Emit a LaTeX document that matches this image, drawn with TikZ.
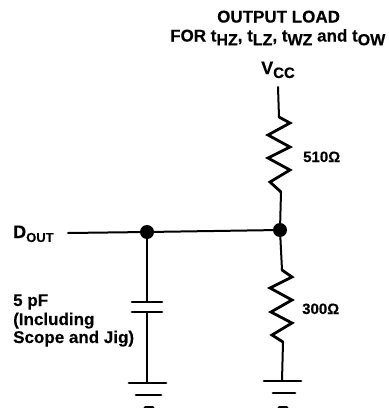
\documentclass[tikz,border=0pt]{standalone}
\usepackage{fontspec}
\setmainfont{Liberation Sans}[BoldFont={Liberation Sans Bold},BoldFeatures={FakeBold=0.3}]
\newcommand{\lowsub}[2][15]{\raisebox{-0.22em}{\fontsize{#1}{#1}\selectfont #2}}
\begin{document}
\begin{tikzpicture}[x=1pt,y=-1pt,
  wire/.style={line width=2pt,line cap=round,line join=round},
  zig/.style={line width=2.8pt,line join=miter,line cap=round},
  plate/.style={line width=2.8pt,line cap=round},
  dot/.style={circle,fill=black,inner sep=0pt,minimum size=14pt},
  lab/.style={font=\fontsize{15}{18}\selectfont\bfseries,inner sep=0pt,anchor=base west},
  note/.style={lab,font=\fontsize{17}{18}\selectfont\bfseries}]
\useasboundingbox (0,0) rectangle (389,408);
\node[lab] (t1) at (217,22.5) {\fontsize{17}{18}\selectfont OUTPUT LOAD};
\node[lab] (t2) at (170,41.5) {\fontsize{17}{18}\selectfont FOR t\lowsub[16]{HZ}, t\lowsub[16]{LZ}, t\lowsub[16]{WZ} and t\lowsub[16]{OW}};
\node[lab] (vcc) at (261,74) {\fontsize{18}{18}\selectfont V\lowsub[15]{CC}};
\node[lab] (r1) at (303,162) {510Ω};
\node[lab] (r2) at (302,314) {300Ω};
\node[lab] (dout) at (13,238) {\fontsize{18}{18}\selectfont D\lowsub[13]{OUT}};
\node[note] (c1) at (13,306) {5 pF};
\node[note] (c2) at (13,325) {(Including};
\node[note] (c3) at (13,343) {Scope and Jig)};
\node[dot] (n1) at (147,232) {};
\node[dot] (n2) at (280,230) {};
\coordinate (vtop) at (278,87);
\coordinate (dstart) at (68,233);
\coordinate (a1) at (279,117);
\coordinate (a2) at (281,192);
\coordinate (b1) at (282,270);
\coordinate (b2) at (283,342);
\coordinate (c1t) at (147,302);
\coordinate (c1b) at (147,312);
\coordinate (g1) at (147,383);
\coordinate (g2) at (282,381);
\draw[wire] (vtop) -- (a1);
\draw[zig] (a1) -- (290,123) -- (268,135) -- (290,147) -- (268,158) -- (290,170) -- (270,182) -- (a2);
\draw[wire] (a2) -- (n2);
\draw[wire] (dstart) -- (n1) -- (n2);
\draw[wire] (n2) -- (b1);
\draw[zig] (b1) -- (292,277) -- (270,288) -- (292,300) -- (271,312) -- (292,323) -- (272,335) -- (b2);
\draw[wire] (b2) -- (g2);
\draw[wire] (n1) -- (c1t);
\draw[wire] (c1b) -- (g1);
\draw[plate] (132,302) -- (162,302);
\draw[plate] (132,312) -- (162,312);
\draw[plate] (129,383) -- (166,383);
\draw[plate] (136,395) -- (161,395);
\draw[plate] (145,407.5) -- (153,407.5);
\draw[plate] (264,381) -- (301,381);
\draw[plate] (273,393) -- (295,393);
\draw[plate] (279,407.5) -- (287,407.5);
\end{tikzpicture}
\end{document}
